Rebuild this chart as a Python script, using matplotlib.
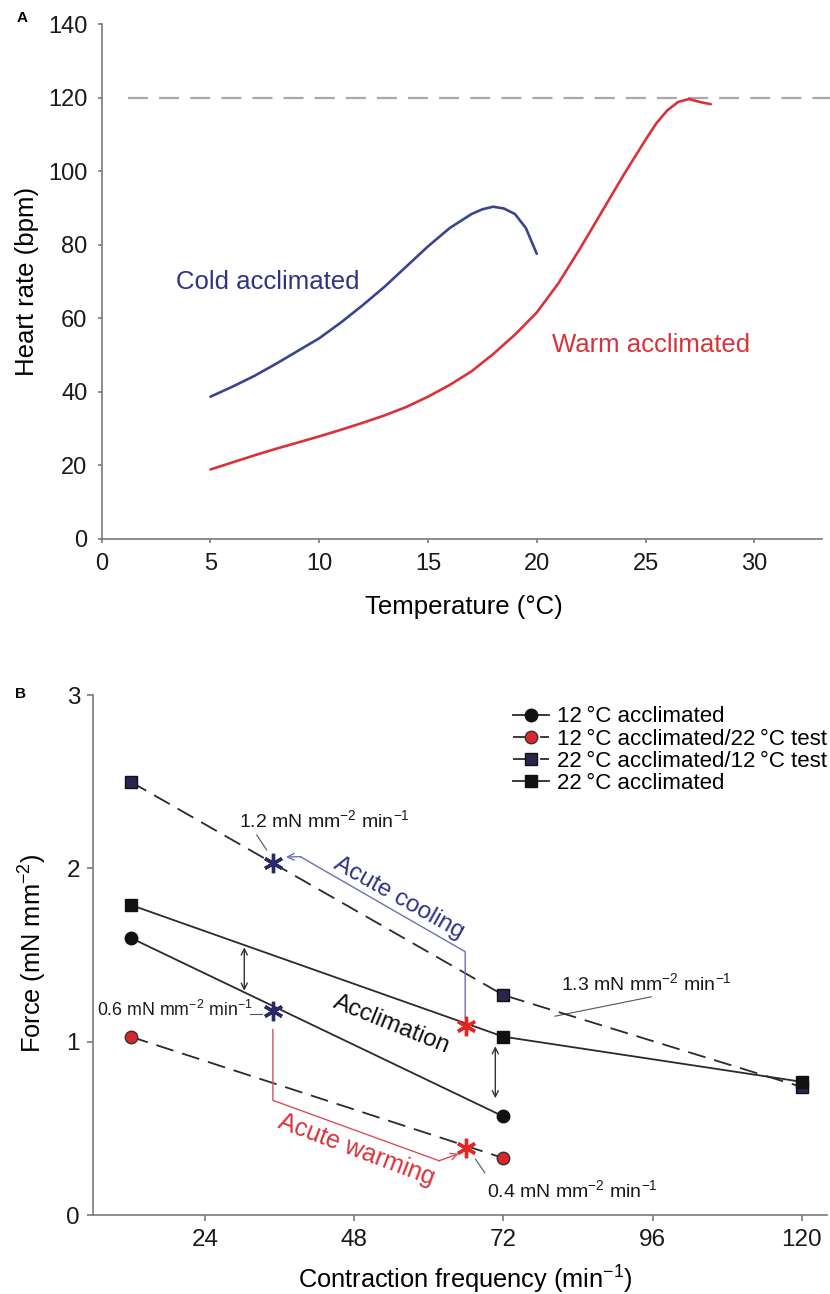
import matplotlib
matplotlib.use("Agg")
import matplotlib.pyplot as plt

plt.rcParams['font.family'] = ['Liberation Sans', 'DejaVu Sans']
plt.rcParams['mathtext.default'] = 'regular'

# ---- panel A: heart rate vs temperature ----
temp_cold = [5, 6, 7, 8, 9, 10, 11, 12, 13, 14, 15, 16, 17, 17.5, 18, 18.5, 19, 19.5, 20]
hr_cold = [38.6, 41.3, 44.2, 47.5, 51.0, 54.5, 58.8, 63.5, 68.5, 74.0, 79.5, 84.5,
           88.3, 89.6, 90.3, 89.8, 88.3, 84.5, 77.5]
temp_warm = [5, 6, 7, 8, 9, 10, 11, 12, 13, 14, 15, 16, 17, 18, 19, 20, 21, 22, 23, 24,
             25, 25.5, 26, 26.5, 27, 27.5, 28]
hr_warm = [18.8, 20.7, 22.6, 24.4, 26.1, 27.8, 29.6, 31.5, 33.5, 35.8, 38.6, 41.8, 45.5,
           50.2, 55.5, 61.5, 69.5, 79.0, 89.0, 99.0, 108.5, 113.0, 116.5, 118.8, 119.6,
           118.8, 118.2]
max_hr = 120

# ---- panel B: force vs contraction frequency ----
freq_12 = [12, 72]
force_12 = [1.60, 0.57]
force_12_test22 = [1.03, 0.33]
freq_22 = [12, 72, 120]
force_22_test12 = [2.50, 1.27, 0.74]
force_22 = [1.79, 1.03, 0.77]
legend_labels = ['12\u2009°C acclimated', '12\u2009°C acclimated/22\u2009°C test',
                 '22\u2009°C acclimated/12\u2009°C test', '22\u2009°C acclimated']

blue_star_x = [35, 35]
blue_star_y = [2.03, 1.18]
red_star_x = [66, 66]
red_star_y = [1.09, 0.39]

BLUE = '#2e3384'
RED = '#d8333b'
AX_GRAY = '#7a7a7a'


def style_axes(ax, tick_size, tick_len, xpad, ypad):
    for s in ['top', 'right']:
        ax.spines[s].set_visible(False)
    for s in ['left', 'bottom']:
        ax.spines[s].set_color(AX_GRAY)
        ax.spines[s].set_linewidth(1.2)
    ax.tick_params(axis='both', colors=AX_GRAY, width=1.2, length=tick_len,
                   labelsize=tick_size, labelcolor='#1a1a1a', direction='out')
    ax.tick_params(axis='x', pad=xpad)
    ax.tick_params(axis='y', pad=ypad)


fig = plt.figure(figsize=(8.3, 12.94), dpi=100)

# ---------------- A ----------------
axA = fig.add_axes([0.1225, 0.5838, 0.8675, 0.3976])
axA.plot([1.2, 34], [max_hr, max_hr], color='#a8a8a8', lw=1.6, dashes=(9, 5), clip_on=False)
axA.plot(temp_cold, hr_cold, color='#3a4590', lw=1.9, solid_capstyle='round')
axA.plot(temp_warm, hr_warm, color='#d9323a', lw=1.9, solid_capstyle='round')
axA.text(3.4, 69.8, 'Cold acclimated', color=BLUE, fontsize=18.5, va='center', ha='left')
axA.text(20.7, 52.6, 'Warm acclimated', color=RED, fontsize=18.5, va='center', ha='left')
axA.set_xlim(0, 33.1)
axA.set_ylim(0, 140)
axA.set_xticks([0, 5, 10, 15, 20, 25, 30])
axA.set_yticks(range(0, 141, 20))
style_axes(axA, 17, 3.2, 7.5, 7)
axA.set_xlabel('Temperature (°C)', fontsize=18.5)
axA.set_ylabel('Heart rate (bpm)', fontsize=18.5)
axA.xaxis.set_label_coords(0.5025, -0.1326)
axA.yaxis.set_label_coords(-0.1044, 0.5)
axA.xaxis.label.set_va('center')
axA.yaxis.label.set_va('center')

# ---------------- B ----------------
axB = fig.add_axes([0.1124, 0.0608, 0.8834, 0.4021])
line_kw = dict(color='#2a2a2a', lw=1.3)
dash = (10, 5)
axB.plot(freq_22, force_22_test12, marker='s', ms=8.5, mfc='#2b2350', mec='#111111',
         dashes=dash, label=legend_labels[2], zorder=3, **line_kw)
axB.plot(freq_22, force_22, marker='s', ms=8.5, mfc='#111111', mec='#111111',
         label=legend_labels[3], zorder=3, **line_kw)
axB.plot(freq_12, force_12, marker='o', ms=9, mfc='#111111', mec='#111111',
         label=legend_labels[0], zorder=3, **line_kw)
axB.plot(freq_12, force_12_test22, marker='o', ms=9, mfc='#d8262c', mec='#333333',
         mew=1.0, dashes=dash, label=legend_labels[1], zorder=3, **line_kw)

axB.plot(blue_star_x, blue_star_y, ls='none', marker=(6, 2, 0), ms=14, mew=2.4,
         color='#2a2a6a', zorder=5)
axB.plot(red_star_x, red_star_y, ls='none', marker=(6, 2, 0), ms=14, mew=2.4,
         color='#e52424', zorder=5)

# acute cooling path
axB.plot([65.85, 65.85, 39.3], [1.14, 1.52, 2.068], color='#6d70b3', lw=1.0, zorder=4)
axB.annotate('', xy=(37.0, 2.066), xytext=(39.4, 2.068),
             arrowprops=dict(arrowstyle='->', color='#6d70b3', lw=1.0,
                             shrinkA=0, shrinkB=0, mutation_scale=12))
axB.text(55.1, 1.83, 'Acute cooling', color=BLUE, fontsize=17.5, rotation=-29.3,
         rotation_mode='anchor', ha='center', va='center')

# acute warming path
axB.plot([34.9, 34.9, 61.7], [1.071, 0.663, 0.314], color='#d6505e', lw=1.0, zorder=4)
axB.annotate('', xy=(64.8, 0.355), xytext=(61.6, 0.314),
             arrowprops=dict(arrowstyle='->', color='#d6505e', lw=1.0,
                             shrinkA=0, shrinkB=0, mutation_scale=12))
axB.text(48.3, 0.378, 'Acute warming', color=RED, fontsize=18, rotation=-20.6,
         rotation_mode='anchor', ha='center', va='center')

axB.text(54.0, 1.10, 'Acclimation', color='#111111', fontsize=17.5, rotation=-21.9,
         rotation_mode='anchor', ha='center', va='center')

# double arrows showing acclimation shift
for x0, y_top, y_bot in [(30.3, 1.545, 1.295), (70.7, 0.975, 0.675)]:
    axB.annotate('', xy=(x0, y_top), xytext=(x0, y_bot),
                 arrowprops=dict(arrowstyle='<->', color='#333333', lw=1.0,
                                 shrinkA=0, shrinkB=0, mutation_scale=11))

# slope labels
slope = ' mN mm$^{-2}$ min$^{-1}$'
axB.text(29.5, 2.28, '1.2' + slope, fontsize=14, ha='left', va='center', color='#1a1a1a')
axB.plot([32.3, 33.9], [2.193, 2.107], color='#555555', lw=0.8)
axB.text(6.6, 1.185, '0.6' + slope, fontsize=12.8, ha='left', va='center', color='#1a1a1a')
axB.plot([31.2, 33.2], [1.16, 1.16], color='#555555', lw=0.8)
axB.text(81.3, 1.34, '1.3' + slope, fontsize=14, ha='left', va='center', color='#1a1a1a')
axB.plot([80.3, 95.8], [1.148, 1.260], color='#555555', lw=0.8)
axB.text(69.4, 0.146, '0.4' + slope, fontsize=14, ha='left', va='center', color='#1a1a1a')
axB.plot([67.5, 69.0], [0.325, 0.245], color='#555555', lw=0.8)

axB.set_xlim(6, 124)
axB.set_ylim(0, 3)
axB.set_xticks([24, 48, 72, 96, 120])
axB.set_yticks([0, 1, 2, 3])
style_axes(axB, 17.5, 4, 6, 5.5)
axB.set_xlabel('Contraction frequency (min$^{-1}$)', fontsize=18.3)
axB.set_ylabel('Force (mN mm$^{-2}$)', fontsize=18.3)
axB.xaxis.set_label_coords(0.5076, -0.1243)
axB.yaxis.set_label_coords(-0.0822, 0.504)
axB.xaxis.label.set_va('center')
axB.yaxis.label.set_va('center')

handles, labels = axB.get_legend_handles_labels()
order = [2, 3, 0, 1]
axB.legend([handles[i] for i in order], [labels[i] for i in order],
           loc='upper left', bbox_to_anchor=(0.5724, 0.978), frameon=False,
           fontsize=16, borderpad=0, borderaxespad=0, labelspacing=0.05,
           handlelength=1.6, handletextpad=0.4, numpoints=1)

fig.text(17 / 830, 1 - 18 / 1294, 'A', fontsize=11, fontweight='bold', ha='left', va='center')
fig.text(15 / 830, 1 - 694 / 1294, 'B', fontsize=11, fontweight='bold', ha='left', va='center')

fig.savefig('out.png', dpi=100)
